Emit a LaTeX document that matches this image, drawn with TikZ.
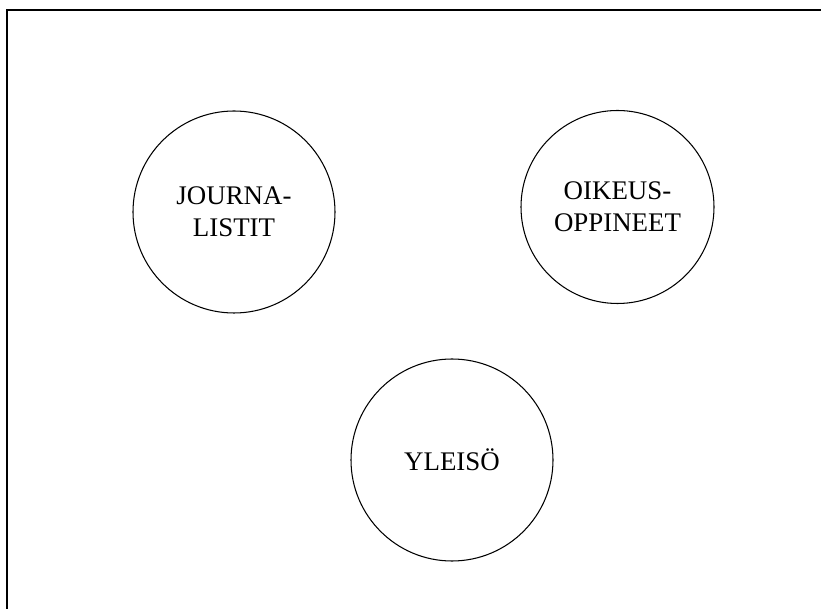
\documentclass[tikz,border=0pt]{standalone}
\usepackage{fontspec}
\setmainfont{Liberation Serif}
\begin{document}
\begin{tikzpicture}[group/.style={circle,draw,line width=0.6pt,minimum size=4.04cm,inner sep=0pt,align=center,font=\fontsize{15.3}{18.2}\selectfont}]
			\useasboundingbox (0,0) rectangle (16.42,12.18);
			\draw [line width=1.1pt] (0.14,-0.5) -- (0.14,11.98) -- (17,11.98);
			\node (journalistit) [group] at (4.68,7.94) {JOURNA-\\LISTIT};
			\node (oikeusoppineet) [group,minimum size=3.86cm] at (12.35,8.04) {OIKEUS-\\OPPINEET};
			\node (yleiso) [group] at (9.04,2.98) {YLEISÖ};
		\end{tikzpicture}
\end{document}
